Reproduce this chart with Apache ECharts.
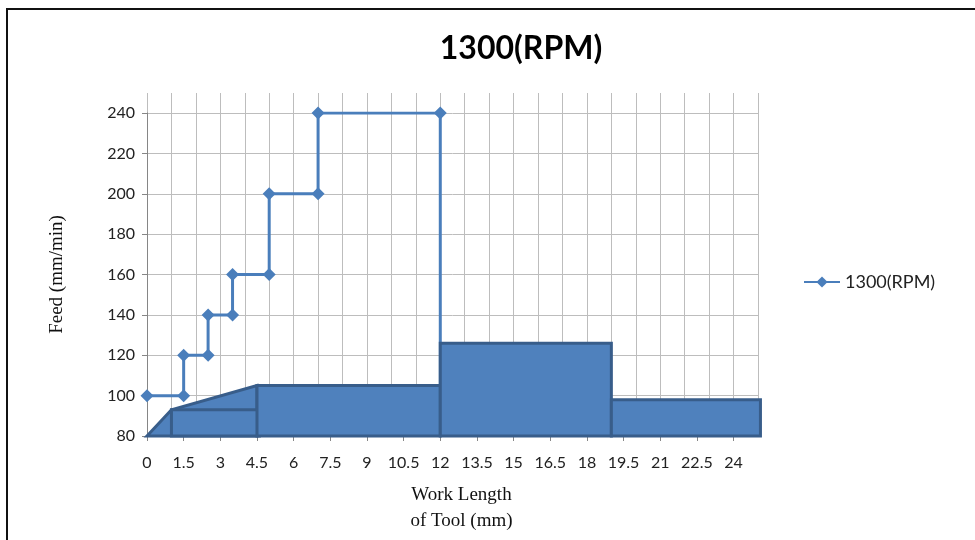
<!DOCTYPE html>
<html>
<head>
<meta charset="utf-8">
<script src="https://cdn.jsdelivr.net/npm/echarts@6/dist/echarts.min.js"></script>
<style>
  html, body { margin: 0; padding: 0; background: #fff; }
  #chart { width: 975px; height: 540px; }
</style>
</head>
<body>
<div id="chart"></div>
<script>
// feed steps (work length mm, feed mm/min)
var feedX = [0, 1.5, 1.5, 2.5, 2.5, 3.5, 3.5, 5, 5, 7, 7, 12, 12];
var feedY = [100, 100, 120, 120, 140, 140, 160, 160, 200, 200, 240, 240, 80];

// tool profile drawn under the line
var taperX = [0, 1, 4.5, 4.5];
var taperY = [80, 93, 105, 80];
var blockStart = [1, 4.5, 12, 19];
var blockEnd = [4.6, 12, 19, 25.1];
var blockTop = [93, 105, 126, 98];
var baseY = 80;

var xLabels = [0, 1.5, 3, 4.5, 6, 7.5, 9, 10.5, 12, 13.5, 15, 16.5, 18, 19.5, 21, 22.5, 24];

var chart = echarts.init(document.getElementById('chart'));

var lineData = feedX.map(function (x, i) {
  var item = { value: [x, feedY[i]] };
  if (i === feedX.length - 1) item.symbol = 'none';
  return item;
});

var shapes = [taperX.map(function (x, i) { return [x, taperY[i]]; })];
for (var i = 0; i < blockStart.length; i++) {
  shapes.push([
    [blockStart[i], baseY], [blockStart[i], blockTop[i]],
    [blockEnd[i], blockTop[i]], [blockEnd[i], baseY]
  ]);
}

function renderShape(params, api) {
  var pts = shapes[params.dataIndex].map(function (p) { return api.coord(p); });
  return {
    type: 'polygon',
    shape: { points: pts },
    style: { fill: '#4f81bd', stroke: '#385d8a', lineWidth: 3, lineJoin: 'miter' }
  };
}

var option = {
  animation: false,
  title: {
    text: '1300(RPM)',
    left: 516,
    top: 28,
    textAlign: 'center',
    textStyle: { fontFamily: 'Lato', fontWeight: 'bold', fontSize: 32, color: '#000' }
  },
  legend: {
    data: ['1300(RPM)'],
    left: 798,
    top: 268,
    itemWidth: 36,
    itemHeight: 14,
    textStyle: { fontFamily: 'Lato', fontSize: 18, color: '#222' }
  },
  graphic: [{
    type: 'rect',
    shape: { x: 7, y: 9, width: 1000, height: 600 },
    style: { fill: 'none', stroke: '#111', lineWidth: 2 },
    silent: true
  }],
  grid: [
    { left: 147, right: 217, top: 93, bottom: 104 },
    { left: 147, right: 217, top: 113, bottom: 104 }
  ],
  xAxis: [
    {
      type: 'value', gridIndex: 0, min: 0, max: 25, interval: 1,
      axisLine: { show: false }, axisTick: { show: false }, axisLabel: { show: false },
      splitLine: { show: true, lineStyle: { color: '#bdbdbd', width: 1 } }
    },
    {
      type: 'value', gridIndex: 1, min: 0, max: 25, interval: 1.5,
      name: 'Work Length\nof Tool (mm)',
      nameLocation: 'middle',
      nameGap: 46,
      nameTextStyle: {
        fontFamily: 'Liberation Serif', fontSize: 19, color: '#111',
        lineHeight: 26, padding: [0, 0, 0, 18]
      },
      axisLine: { show: true, lineStyle: { color: '#868686', width: 1 } },
      axisTick: { show: true, length: 5, customValues: xLabels, lineStyle: { color: '#868686' } },
      axisLabel: {
        customValues: xLabels, margin: 19,
        fontFamily: 'Lato', fontSize: 16, color: '#222'
      },
      splitLine: { show: false }
    }
  ],
  yAxis: [
    {
      type: 'value', gridIndex: 0, min: 80, max: 250,
      axisLine: { show: false }, axisTick: { show: false }, axisLabel: { show: false },
      splitLine: { show: false }
    },
    {
      type: 'value', gridIndex: 1, min: 80, max: 240, interval: 20,
      name: 'Feed (mm/min)',
      nameLocation: 'middle',
      nameGap: 80,
      nameTextStyle: { fontFamily: 'Liberation Serif', fontSize: 19, color: '#111' },
      axisLine: { show: true, lineStyle: { color: '#868686', width: 1 } },
      axisTick: { show: true, length: 5, lineStyle: { color: '#868686' } },
      axisLabel: { margin: 12, fontFamily: 'Lato', fontSize: 16, color: '#222' },
      splitLine: { show: true, lineStyle: { color: '#bdbdbd', width: 1 } }
    }
  ],
  series: [
    {
      name: '1300(RPM)',
      type: 'line',
      xAxisIndex: 1,
      yAxisIndex: 1,
      data: lineData,
      symbol: 'diamond',
      symbolSize: 13,
      z: 2,
      itemStyle: { color: '#4a7ebb' },
      lineStyle: { color: '#4a7ebb', width: 3 }
    },
    {
      name: 'profile',
      type: 'custom',
      xAxisIndex: 1,
      yAxisIndex: 1,
      z: 3,
      data: shapes.map(function (s, i) { return [i]; }),
      encode: { x: [], y: [] },
      renderItem: renderShape
    }
  ]
};

chart.setOption(option);
</script>
</body>
</html>
